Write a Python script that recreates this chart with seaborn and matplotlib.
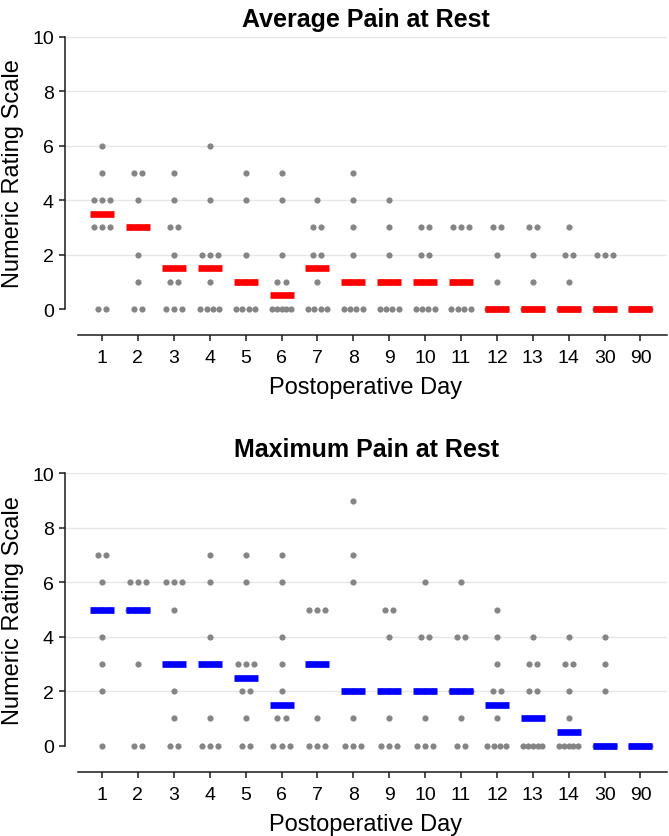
import numpy as np
import pandas as pd
import matplotlib
matplotlib.use("Agg")
import matplotlib.pyplot as plt
import seaborn as sns

# postoperative days shown on the x axis
days = ["1", "2", "3", "4", "5", "6", "7", "8", "9", "10", "11", "12", "13", "14", "30", "90"]

# individual NRS scores per day
avg_pain = [
    [6, 5, 4, 4, 4, 3, 3, 3, 0, 0],
    [5, 5, 4, 3, 3, 3, 2, 1, 0, 0],
    [5, 4, 3, 3, 2, 1, 1, 0, 0, 0],
    [6, 4, 2, 2, 2, 1, 0, 0, 0, 0],
    [5, 4, 2, 1, 1, 1, 0, 0, 0, 0],
    [5, 4, 2, 1, 1, 0, 0, 0, 0, 0],
    [4, 3, 3, 2, 2, 1, 0, 0, 0, 0],
    [5, 4, 3, 2, 1, 1, 0, 0, 0, 0],
    [4, 3, 2, 1, 1, 1, 0, 0, 0, 0],
    [3, 3, 2, 2, 1, 1, 0, 0, 0, 0],
    [3, 3, 3, 1, 1, 1, 0, 0, 0, 0],
    [3, 3, 2, 1, 0, 0, 0, 0, 0, 0],
    [3, 3, 2, 1, 0, 0, 0, 0, 0, 0],
    [3, 2, 2, 1, 0, 0, 0, 0, 0, 0],
    [2, 2, 2, 0, 0, 0, 0, 0, 0, 0],
    [0, 0, 0, 0, 0, 0, 0, 0, 0, 0],
]
max_pain = [
    [7, 7, 6, 5, 5, 5, 4, 3, 2, 0],
    [6, 6, 6, 5, 5, 5, 5, 3, 0, 0],
    [6, 6, 6, 5, 3, 3, 2, 1, 0, 0],
    [7, 6, 4, 3, 3, 3, 1, 0, 0, 0],
    [7, 6, 3, 3, 3, 2, 2, 1, 0, 0],
    [7, 6, 4, 3, 2, 1, 1, 0, 0, 0],
    [5, 5, 5, 3, 3, 3, 1, 0, 0, 0],
    [9, 7, 6, 2, 2, 2, 1, 0, 0, 0],
    [5, 5, 4, 2, 2, 2, 1, 0, 0, 0],
    [6, 4, 4, 2, 2, 2, 1, 0, 0, 0],
    [6, 4, 4, 2, 2, 2, 2, 1, 0, 0],
    [5, 4, 3, 2, 2, 1, 0, 0, 0, 0],
    [4, 3, 3, 2, 2, 0, 0, 0, 0, 0],
    [4, 3, 3, 2, 1, 0, 0, 0, 0, 0],
    [4, 3, 2, 0, 0, 0, 0, 0, 0, 0],
    [0, 0, 0, 0, 0, 0, 0, 0, 0, 0],
]

titles = ["Average Pain at Rest", "Maximum Pain at Rest"]
median_colors = ["#ff0000", "#0000ff"]
dot_color = "#858585"


def dot_offsets(values, step=0.225, span=0.53):
    # spread tied scores sideways, squeeze them when a row gets crowded
    values = np.asarray(values)
    offs = np.zeros(len(values))
    for v in np.unique(values):
        idx = np.where(values == v)[0]
        c = len(idx)
        if c > 1:
            gap = min(step, span / (c - 1))
            offs[idx] = (np.arange(c) - (c - 1) / 2) * gap
    return offs


def to_frame(scores):
    rows = []
    for i, (day, vals) in enumerate(zip(days, scores)):
        for v, o in zip(vals, dot_offsets(vals)):
            rows.append({"day": day, "pos": i, "x": i + o, "score": v})
    return pd.DataFrame(rows)


sns.set_theme(style="ticks")
plt.rcParams["font.family"] = ["Liberation Sans", "DejaVu Sans"]
plt.rcParams["text.color"] = "black"
plt.rcParams["axes.labelcolor"] = "black"

fig = plt.figure(figsize=(6.69, 8.37), dpi=100)
ax_top = fig.add_axes([0.0972, 0.6296, 0.8999, 0.325])
ax_bot = fig.add_axes([0.0972, 0.1079, 0.8999, 0.3254])

for ax, scores, title, col, pad in zip([ax_top, ax_bot], [avg_pain, max_pain],
                                       titles, median_colors, [8, 12.5]):
    df = to_frame(scores)
    sns.scatterplot(data=df, x="x", y="score", color=dot_color, s=20, linewidth=0,
                    clip_on=False, legend=False, ax=ax)
    # median bars
    sns.pointplot(data=df, x="pos", y="score", native_scale=True, estimator="median",
                  errorbar=None, linestyle="none", marker="_", markersize=17.3,
                  markeredgewidth=4.8, color=col, clip_on=False, ax=ax)

    ax.set_xlim(-1.03, 15.74)
    ax.set_ylim(0, 10)
    ax.set_xticks(range(len(days)), days)
    ax.set_yticks(range(0, 11, 2))
    ax.set_axisbelow(True)
    ax.yaxis.grid(True, color="#e6e6e6", lw=1)
    ax.get_ygridlines()[0].set_visible(False)
    sns.despine(ax=ax)
    ax.spines["bottom"].set_position(("outward", 19))
    ax.spines["bottom"].set_bounds(-0.67, 15.74)
    ax.spines["left"].set_bounds(0, 10)
    for s in ["bottom", "left"]:
        ax.spines[s].set_color("#1a1a1a")
        ax.spines[s].set_linewidth(1.1)
    ax.tick_params(axis="both", direction="out", length=4, width=1.1, color="#1a1a1a",
                   labelsize=14, pad=4, labelcolor="black")
    ax.tick_params(axis="x", pad=6)
    ax.set_title(title, fontsize=18, fontweight="bold", pad=pad, color="black")
    ax.set_xlabel("Postoperative Day", fontsize=17, labelpad=7)
    ax.set_ylabel("Numeric Rating Scale", fontsize=17, labelpad=6)

fig.savefig("out.png", dpi=100)
